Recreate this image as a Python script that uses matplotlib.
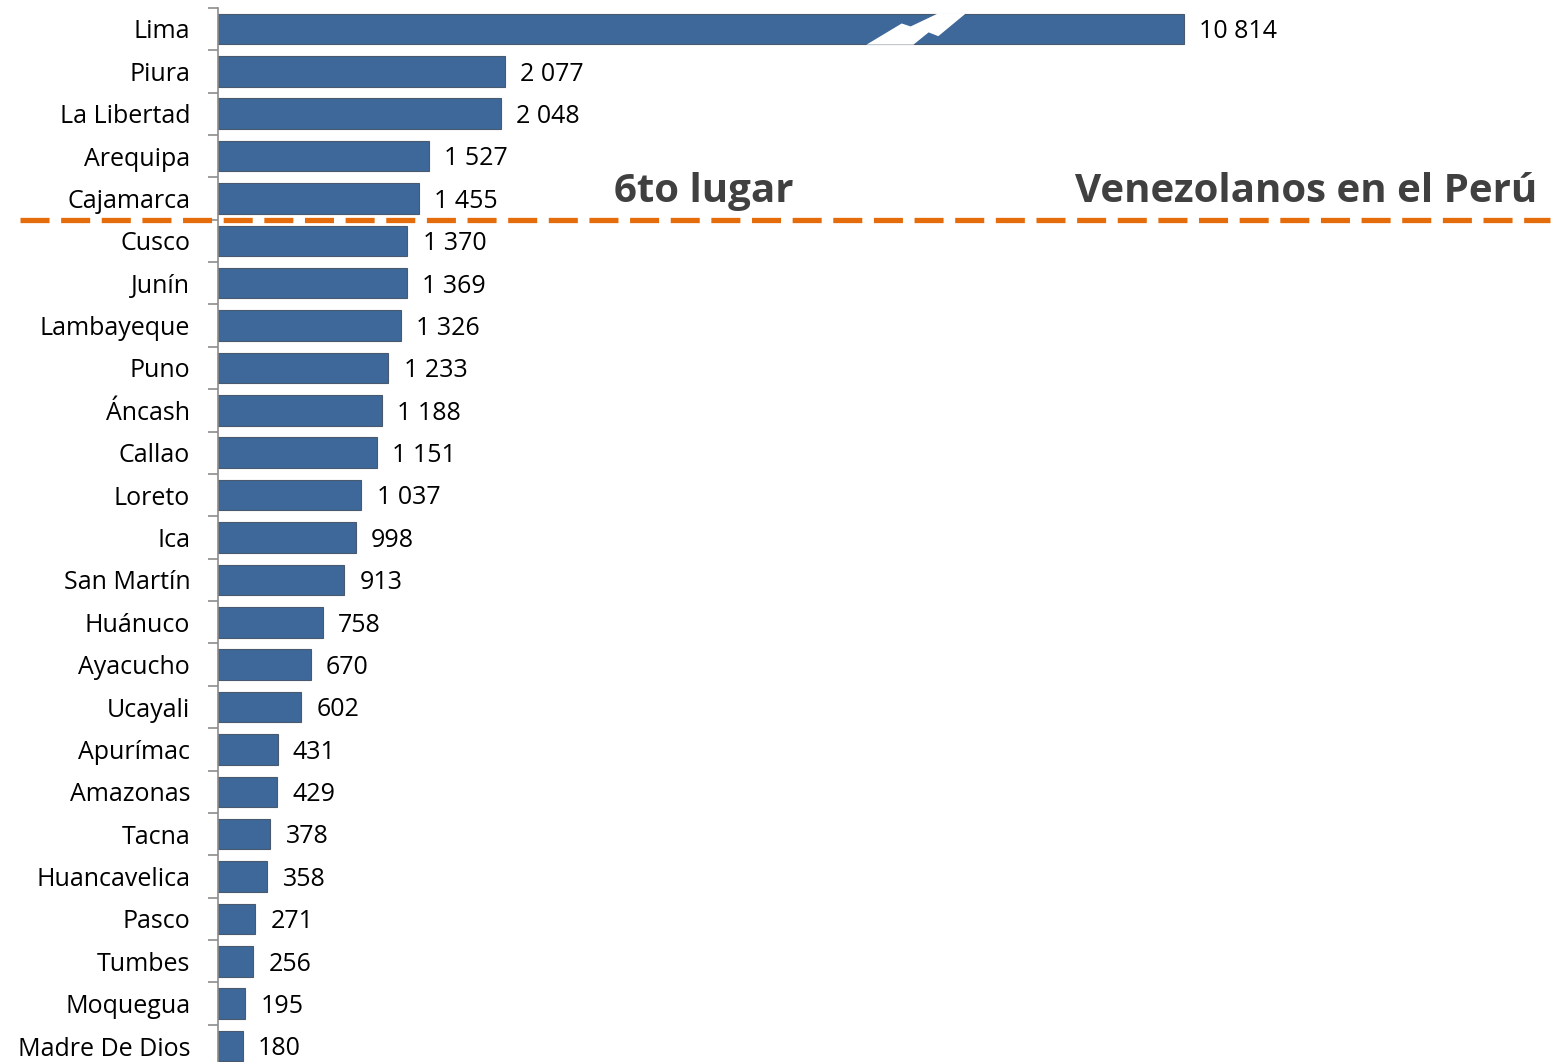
import numpy as np
import matplotlib.pyplot as plt
from matplotlib.patches import Polygon

# Datos: venezolanos por región
regiones = ["Lima", "Piura", "La Libertad", "Arequipa", "Cajamarca", "Cusco",
            "Junín", "Lambayeque", "Puno", "Áncash", "Callao", "Loreto", "Ica",
            "San Martín", "Huánuco", "Ayacucho", "Ucayali", "Apurímac",
            "Amazonas", "Tacna", "Huancavelica", "Pasco", "Tumbes", "Moquegua",
            "Madre De Dios"]
valores = [10814, 2077, 2048, 1527, 1455, 1370, 1369, 1326, 1233, 1188, 1151,
           1037, 998, 913, 758, 670, 602, 431, 429, 378, 358, 271, 256, 195, 180]
etiquetas = ["10 814", "2 077", "2 048", "1 527", "1 455", "1 370", "1 369",
             "1 326", "1 233", "1 188", "1 151", "1 037", "998", "913", "758",
             "670", "602", "431", "429", "378", "358", "271", "256", "195", "180"]

tope = 6990  # largo visible de la barra de Lima (eje cortado)
xmax = 9640

plt.rcParams['font.family'] = ['Open Sans', 'DejaVu Sans']

fig = plt.figure(figsize=(15.55, 10.62), dpi=100)
ax = fig.add_axes([218 / 1555, -5.2 / 1062, (1550 - 218) / 1555, 1059.4 / 1062])

y = np.arange(len(regiones))
largo = [min(v, tope) for v in valores]
ax.barh(y, largo, height=0.72, color='#3d6899', edgecolor='#4a5a6e', linewidth=0.8)

for yi, l, t in zip(y, largo, etiquetas):
    ax.annotate(t, (l, yi), xytext=(11, -2), textcoords='offset points',
                ha='left', va='center', fontsize=18, color='black')

# corte de la barra de Lima
xb = tope * 0.70
brk = [(xb - 200, 0.37), (xb + 55, -0.13), (xb + 120, -0.06), (xb + 320, -0.37),
       (xb + 520, -0.37), (xb + 320, 0.17), (xb + 250, 0.08), (xb + 140, 0.37)]
ax.add_patch(Polygon(brk, closed=True, facecolor='white', edgecolor='none', zorder=3))

ax.set_xlim(0, xmax)
ax.set_ylim(len(regiones) - 0.5, -0.5)
ax.set_yticks(y)
ax.set_yticklabels(regiones, fontsize=18)
ax.set_yticks(np.arange(len(regiones) + 1) - 0.5, minor=True)
ax.tick_params(axis='y', which='major', length=0, pad=20)
ax.tick_params(axis='y', which='minor', length=7, color='#8c8c8c', width=1.2)
ax.set_xticks([])
for s in ['top', 'right', 'bottom']:
    ax.spines[s].set_visible(False)
ax.spines['left'].set_color('#8c8c8c')
ax.spines['left'].set_linewidth(1.2)

# línea de corte en el 6to lugar
ax.plot([-1430, xmax], [4.5, 4.5], color='#e46c0a', lw=3.8,
        dashes=(5.5, 2.2), clip_on=False, zorder=4)
ax.text(2865, 4.3, "6to lugar", fontsize=29, fontweight='bold',
        color='#404040', ha='left', va='bottom')
ax.text(9550, 4.3, "Venezolanos en el Perú", fontsize=29, fontweight='bold',
        color='#404040', ha='right', va='bottom')

fig.savefig("out.png", dpi=100)
